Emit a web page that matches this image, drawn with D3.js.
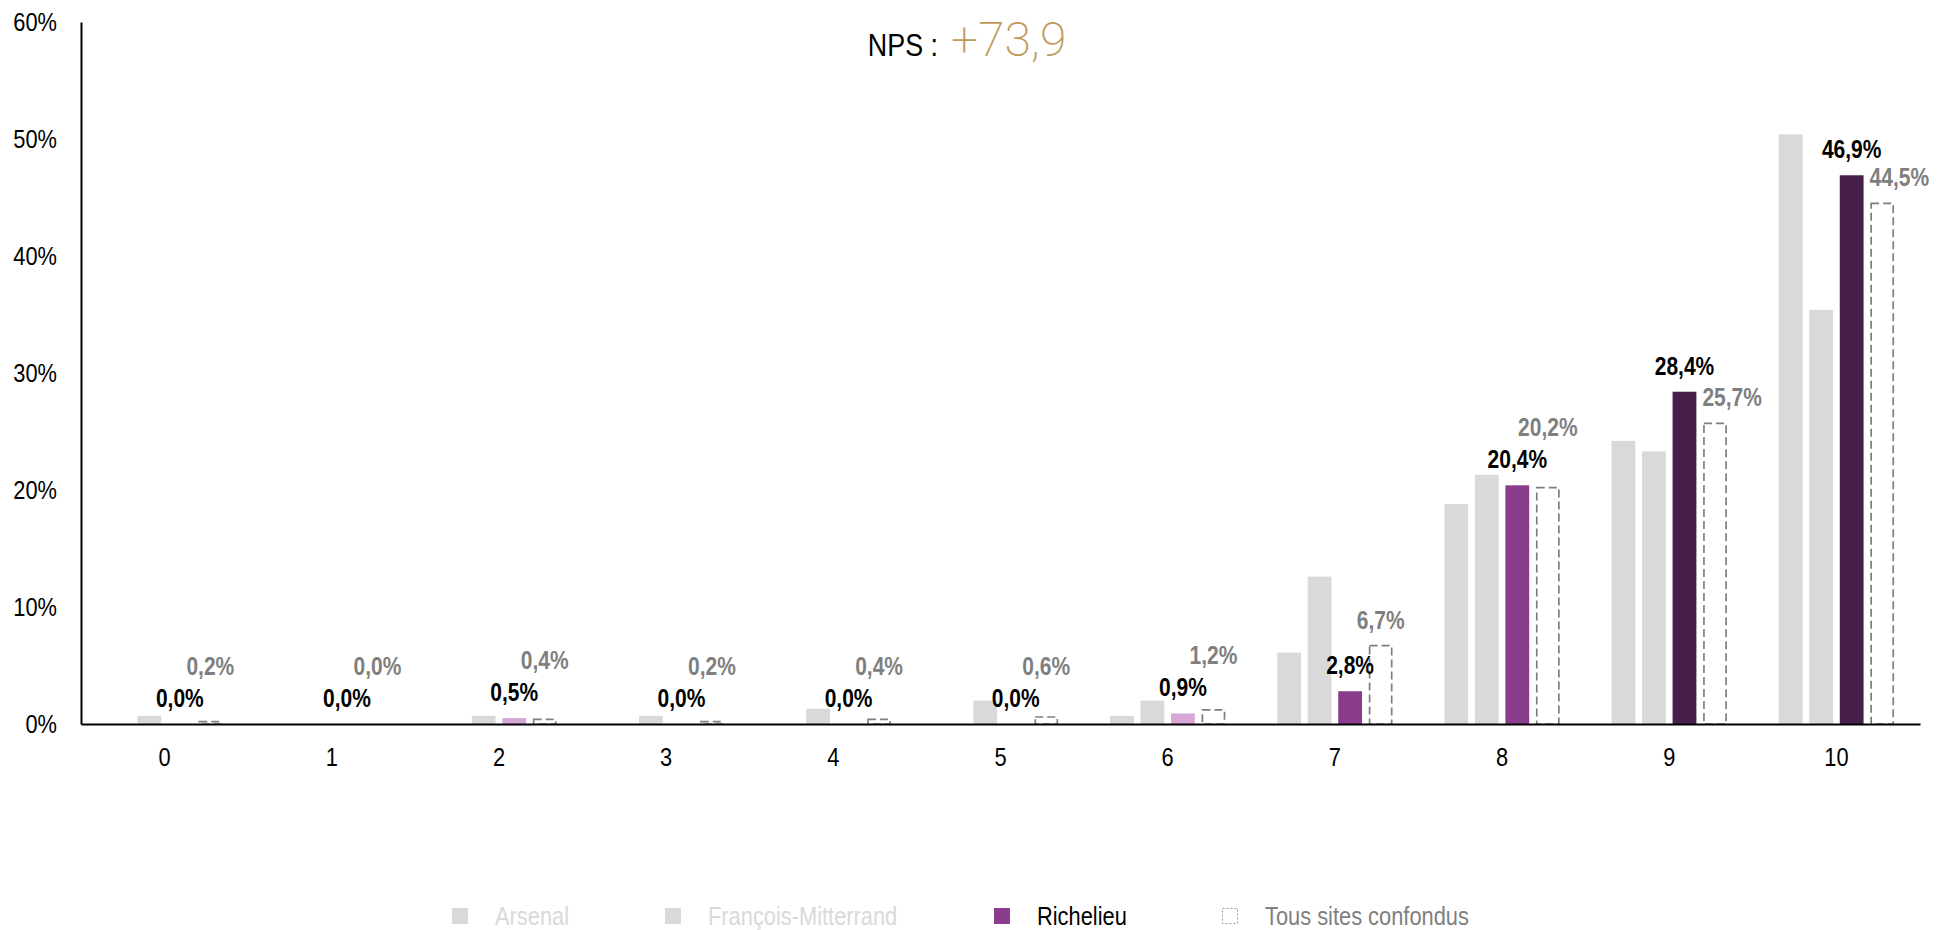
<!DOCTYPE html>
<html><head><meta charset="utf-8">
<script src="https://cdn.jsdelivr.net/npm/d3@7"></script>
<style>
html,body{margin:0;padding:0;background:#fff;}
svg{display:block;}
text{font-family:"Liberation Sans Narrow","Arial Narrow","Liberation Sans",Arial,sans-serif;}
.nc{transform-box:fill-box;transform-origin:50% 50%;transform:scaleX(0.84);}
.nr{transform-box:fill-box;transform-origin:100% 50%;transform:scaleX(0.84);}
.nl{transform-box:fill-box;transform-origin:0% 50%;transform:scaleX(0.84);}
</style></head>
<body>
<svg id="chart" width="1947" height="930"></svg>
<script>
const categories = ["0","1","2","3","4","5","6","7","8","9","10"];
const arsenal    = [0, 0, 0, 0, 0, 0, 0.7, 6.1, 18.8, 24.2, 50.4];
const mitterrand = [0.7, 0, 0.7, 0.7, 1.3, 2.0, 2.0, 12.6, 21.3, 23.3, 35.4];
const richelieu  = [0.0, 0.0, 0.5, 0.0, 0.0, 0.0, 0.9, 2.8, 20.4, 28.4, 46.9];
const tous       = [0.2, 0.0, 0.4, 0.2, 0.4, 0.6, 1.2, 6.7, 20.2, 25.7, 44.5];
const seriesNames = ["Arsenal","François-Mitterrand","Richelieu","Tous sites confondus"];
const yTicks = [0,10,20,30,40,50,60];
const npsLabel = "NPS :";
const npsValue = "+73,9";

const series = [arsenal, mitterrand, richelieu, tous];
const svg = d3.select("#chart");
const margin = {left:81, right:27, top:22, bottom:206};
const W = 1947, H = 930;
const NARROW = 0.84;

const x0 = d3.scaleBand().domain(categories).range([margin.left, W - margin.right])
  .paddingInner(0.31).paddingOuter(0.155);
const x1 = d3.scaleBand().domain(seriesNames).range([0, x0.bandwidth()]).paddingInner(0.22).paddingOuter(0);
const y = d3.scaleLinear().domain([0,60]).range([H - margin.bottom, margin.top]);

const fmt = v => v.toFixed(1).replace(".", ",") + "%";
const richColor = i => i <= 6 ? "#d8a7d8" : (i <= 8 ? "#893d8b" : "#451f49");

// bars
categories.forEach((c, i) => {
  const g = svg.append("g").attr("transform", `translate(${x0(c)},0)`);
  [0,1].forEach(s => {
    const v = series[s][i];
    if (v > 0) g.append("rect").attr("x", x1(seriesNames[s])).attr("width", x1.bandwidth())
      .attr("y", y(v)).attr("height", y(0) - y(v)).attr("fill", "#d9d9d9");
  });
  const rv = richelieu[i];
  if (rv > 0) g.append("rect").attr("x", x1(seriesNames[2])).attr("width", x1.bandwidth())
    .attr("y", y(rv)).attr("height", y(0) - y(rv)).attr("fill", richColor(i));
  const tv = tous[i];
  if (tv > 0) g.append("rect").attr("x", x1(seriesNames[3]) + 0.85).attr("width", x1.bandwidth() - 1.7)
    .attr("y", y(tv)).attr("height", y(0) - y(tv)).attr("fill", "none")
    .attr("stroke", "#7f7f7f").attr("stroke-width", 1.7).attr("stroke-dasharray", "8,4");

  // labels
  const gap = 17;
  const ry = y(rv) - gap;
  let ty = y(tv) - gap;
  if (Math.abs(ty - ry) < 26) ty = Math.min(ty, ry - 32);
  g.append("text").attr("class","nc").attr("x", x1(seriesNames[2]) + x1.bandwidth()/2).attr("y", ry)
    .attr("text-anchor","middle").attr("font-weight","bold").attr("font-size", 25)
    .attr("fill","#000").text(fmt(rv));
  const tl = g.append("text").attr("class","nc").attr("x", x1(seriesNames[3]) + x1.bandwidth()/2).attr("y", ty)
    .attr("text-anchor","middle").attr("font-weight","bold").attr("font-size", 25)
    .attr("fill","#7f7f7f").text(fmt(tv));
  // keep the Tous label clear of the Richelieu bar
  const half = tl.node().getBBox().width * NARROW / 2;
  const cx = x1(seriesNames[3]) + x1.bandwidth()/2;
  const barRight = x1(seriesNames[2]) + x1.bandwidth();
  if (cx - half < barRight && ty > y(rv)) tl.attr("x", barRight + 6 + half);
});

// axes
const yAxis = d3.axisLeft(y).tickValues(yTicks).tickSize(0).tickPadding(24).tickFormat(d => d + "%");
const gy = svg.append("g").attr("transform", `translate(${margin.left},0)`).call(yAxis);
gy.select(".domain").attr("stroke", "#000").attr("stroke-width", 2);
gy.selectAll("text").attr("class","nr").attr("font-size", 26).attr("fill", "#000")
  .style("font-family", '"Liberation Sans Narrow","Arial Narrow","Liberation Sans",Arial,sans-serif');

const xAxis = d3.axisBottom(x0).tickSize(0).tickPadding(24);
const gx = svg.append("g").attr("transform", `translate(0,${y(0)})`).call(xAxis);
gx.select(".domain").attr("stroke", "#000").attr("stroke-width", 2);
gx.selectAll("text").attr("class","nc").attr("font-size", 26).attr("fill", "#000")
  .style("font-family", '"Liberation Sans Narrow","Arial Narrow","Liberation Sans",Arial,sans-serif');

// title
svg.append("text").attr("class","nr").attr("x", 938).attr("y", 56).attr("text-anchor", "end")
  .attr("font-size", 32).attr("fill", "#000").text(npsLabel);
svg.append("text").attr("x", 951).attr("y", 56)
  .attr("font-size", 48).attr("fill", "#c09a5a").attr("font-weight", 200)
  .style("font-family", 'Roboto,"Open Sans",Lato,sans-serif').text(npsValue);

// legend
const legendX = [452, 665, 994, 1222];
const legendTextColor = ["#d9d9d9", "#d9d9d9", "#000", "#7f7f7f"];
const lg = svg.append("g");
seriesNames.forEach((n, i) => {
  const gx2 = lg.append("g").attr("transform", `translate(${legendX[i]},908)`);
  if (i < 2) gx2.append("rect").attr("width", 16).attr("height", 16).attr("fill", "#d9d9d9");
  else if (i === 2) gx2.append("rect").attr("width", 16).attr("height", 16).attr("fill", "#893d8b");
  else gx2.append("rect").attr("x", 0.5).attr("y", 0.5).attr("width", 15).attr("height", 15)
    .attr("fill", "none").attr("stroke", "#9a9a9a").attr("stroke-width", 1).attr("stroke-dasharray", "2,2");
  gx2.append("text").attr("class","nl").attr("x", 43).attr("y", 17).attr("font-size", 26)
    .attr("fill", legendTextColor[i]).text(n);
});
</script>
</body></html>
